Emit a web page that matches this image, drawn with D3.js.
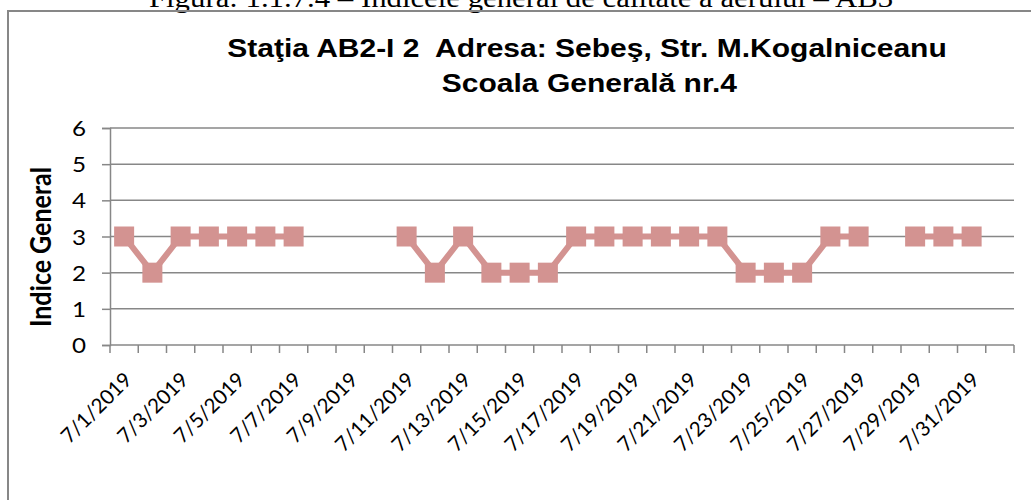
<!DOCTYPE html>
<html>
<head>
<meta charset="utf-8">
<script src="https://cdn.jsdelivr.net/npm/d3@7"></script>
<style>
  body { margin: 0; background: #fff; }
  svg { display: block; }
</style>
</head>
<body>
<script>
// daily dates, july 2019 (+ 8/1 with no reading)
var days = ['7/1/2019','7/2/2019','7/3/2019','7/4/2019','7/5/2019','7/6/2019','7/7/2019','7/8/2019',
  '7/9/2019','7/10/2019','7/11/2019','7/12/2019','7/13/2019','7/14/2019','7/15/2019','7/16/2019',
  '7/17/2019','7/18/2019','7/19/2019','7/20/2019','7/21/2019','7/22/2019','7/23/2019','7/24/2019',
  '7/25/2019','7/26/2019','7/27/2019','7/28/2019','7/29/2019','7/30/2019','7/31/2019','8/1/2019'];
var indice = [3,2,3,3,3,3,3,null,null,null,3,2,3,2,2,2,3,3,3,3,3,3,2,2,2,3,3,null,3,3,3,null];
var yTicks = [0,1,2,3,4,5,6];

var W = 1031, H = 500;
var pLeft = 110, pRight = 1014, pTop = 128, pBottom = 345;
var sx = 1.2; // picture looks stretched sideways
var col = '#d39391';
var grey = '#878787';

var svg = d3.select('body').append('svg').attr('width', W).attr('height', H);

// caption above the chart (cut off at top)
svg.append('text').attr('transform', 'translate(521,7) scale(1.14,1)').attr('text-anchor', 'middle')
  .style('font-family', '"Liberation Serif", "Times New Roman", serif').style('font-size', '27px')
  .text('Figura: 1.1.7.4 – Indicele general de calitate a aerului – AB3');

// chart frame
svg.append('path').attr('d', 'M8,' + H + 'V11H' + W)
  .attr('fill', 'none').attr('stroke', grey).attr('stroke-width', 2);

var title = svg.append('text').attr('text-anchor', 'middle')
  .attr('transform', 'translate(587,0) scale(' + sx + ',1)')
  .style('white-space', 'pre')
  .style('font-family', '"Liberation Sans", Arial, sans-serif').style('font-weight', 'bold').style('font-size', '25px');
title.append('tspan').attr('x', 0).attr('y', 57).text('Staţia AB2-I 2  Adresa: Sebeş, Str. M.Kogalniceanu');
title.append('tspan').attr('x', 2).attr('y', 92).text('Scoala Generală nr.4');

var x = d3.scaleBand().domain(days).range([pLeft, pRight]);
var y = d3.scaleLinear().domain([0, 6]).range([pBottom, pTop]);

// gridlines
svg.append('g').selectAll('line').data(yTicks.slice(1)).enter().append('line')
  .attr('x1', pLeft).attr('x2', pRight).attr('y1', function(d){ return y(d); }).attr('y2', function(d){ return y(d); })
  .attr('stroke', grey).attr('stroke-width', 1.5);

var yAxis = svg.append('g').attr('transform', 'translate(' + pLeft + ',0)')
  .call(d3.axisLeft(y).tickValues(yTicks).tickSize(8).tickPadding(0).tickFormat(function(){ return ''; }));
yAxis.select('.domain').attr('stroke', grey).attr('stroke-width', 1.5);
yAxis.selectAll('.tick line').attr('stroke', grey).attr('stroke-width', 1.5);
svg.append('g').selectAll('text').data(yTicks).enter().append('text')
  .attr('transform', function(d){ return 'translate(86,' + (y(d) + 8) + ') scale(1.1,1)'; })
  .attr('text-anchor', 'end')
  .style('font-family', 'Lato, sans-serif').style('font-size', '22px')
  .text(function(d){ return d; });

// x axis: ticks on category boundaries
var xg = svg.append('g').attr('transform', 'translate(0,' + pBottom + ')');
xg.append('line').attr('x1', pLeft).attr('x2', pRight).attr('stroke', grey).attr('stroke-width', 1.5);
xg.selectAll('.tk').data(days.concat(['end'])).enter().append('line')
  .attr('x1', function(d, i){ return pLeft + i * x.step(); })
  .attr('x2', function(d, i){ return pLeft + i * x.step(); })
  .attr('y1', 0).attr('y2', 8).attr('stroke', grey).attr('stroke-width', 1.5);
xg.selectAll('.lbl').data(days.filter(function(d, i){ return i % 2 == 0; })).enter().append('text')
  .attr('text-anchor', 'end')
  .attr('transform', function(d){ return 'translate(' + (x(d) + x.bandwidth() / 2 + 9) + ',36) rotate(-45)'; })
  .style('font-family', 'Lato, sans-serif').style('font-size', '20.5px')
  .text(function(d){ return d; });

// series line with gaps
var line = d3.line()
  .defined(function(d){ return d != null; })
  .x(function(d, i){ return x(days[i]) + x.bandwidth() / 2; })
  .y(function(d){ return y(d); });
svg.append('path').datum(indice).attr('d', line)
  .attr('fill', 'none').attr('stroke', col).attr('stroke-width', 6).attr('stroke-linejoin', 'round');

svg.append('g').selectAll('rect').data(indice.map(function(v, i){ return {d: days[i], v: v}; }).filter(function(p){ return p.v != null; }))
  .enter().append('rect')
  .attr('x', function(p){ return x(p.d) + x.bandwidth() / 2 - 10; })
  .attr('y', function(p){ return y(p.v) - 10; })
  .attr('width', 20).attr('height', 20).attr('fill', col);

// axis title
svg.append('text').attr('transform', 'translate(51,247) scale(1.15,1) rotate(-90)').attr('text-anchor', 'middle')
  .style('font-family', 'Lato, sans-serif').style('font-weight', 'bold').style('font-size', '25px')
  .text('Indice General');
</script>
</body>
</html>
